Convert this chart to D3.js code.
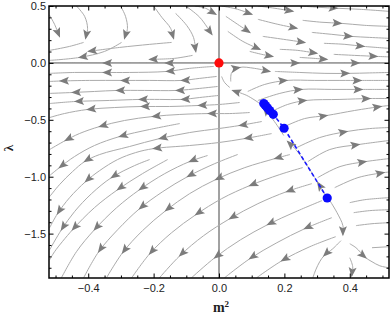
<!DOCTYPE html>
<html>
<head>
<meta charset="utf-8">
<script src="https://cdn.jsdelivr.net/npm/d3@7"></script>
<style>
  body { margin: 0; background: #fff; }
</style>
</head>
<body>
<div id="chart"></div>
<script>
'use strict';

// axis ticks
const xTicks = [-0.4, -0.2, 0, 0.2, 0.4];
const yTicks = [0.5, 0, -0.5, -1, -1.5];
const xMinorTicks = [-0.5, -0.45, -0.35, -0.3, -0.25, -0.15, -0.1, -0.05, 0.05, 0.1, 0.15, 0.25, 0.3, 0.35, 0.45, 0.5];
const yMinorTicks = [0.4, 0.3, 0.2, 0.1, -0.1, -0.2, -0.3, -0.4, -0.6, -0.7, -0.8, -0.9, -1.1, -1.2, -1.3, -1.4, -1.6, -1.7, -1.8];

// fixed point and the blue sequence of points (m^2, lambda)
const fixedM2 = [0];
const fixedLambda = [0];
const blueM2 = [0.137, 0.142, 0.148, 0.155, 0.166, 0.199, 0.331];
const blueLambda = [-0.357, -0.375, -0.395, -0.418, -0.452, -0.574, -1.187];

// stream lines: points (m^2, lambda) in flow order,
// heads = indices of the points that carry an arrowhead
const upperLeftStreams = [
  {pts: [[-0.518,0.418],[-0.503,0.339],[-0.488,0.233]], heads: [2]},
  {pts: [[-0.436,0.5],[-0.411,0.409],[-0.402,0.304],[-0.408,0.216]], heads: [3]},
  {pts: [[-0.414,0.180],[-0.457,0.145],[-0.518,0.110]], heads: []},
  {pts: [[-0.301,0.5],[-0.286,0.409],[-0.280,0.304],[-0.289,0.216]], heads: [3]},
  {pts: [[-0.298,0.180],[-0.350,0.101],[-0.427,0.048],[-0.518,0.022]], heads: [2]},
  {pts: [[-0.200,0.5],[-0.175,0.401],[-0.148,0.304],[-0.139,0.216]], heads: [3]},
  {pts: [[-0.145,0.180],[-0.212,0.163],[-0.304,0.136],[-0.399,0.101]], heads: [3]},
  {pts: [[-0.133,0.436],[-0.099,0.330],[-0.078,0.224],[-0.071,0.101]], heads: [3]},
  {pts: [[-0.102,0.5],[-0.059,0.401],[-0.022,0.251]], heads: [2]},
  {pts: [[-0.074,0.5],[-0.041,0.480],[-0.010,0.427]], heads: [2]},
  {pts: [[-0.010,0],[-0.087,0],[-0.163,0],[-0.243,0],[-0.353,0],[-0.442,0],[-0.518,0]], heads: [2,4]},
  {pts: [[-0.081,0.066],[-0.136,0.040],[-0.212,0.031]], heads: [2]}
];

const upperRightStreams = [
  {pts: [[0.008,0.5],[0.057,0.471],[0.100,0.427]], heads: [2]},
  {pts: [[0.119,0.5],[0.171,0.480],[0.226,0.453]], heads: [2]},
  {pts: [[0.247,0.5],[0.302,0.489],[0.361,0.480],[0.431,0.471],[0.520,0.453]], heads: [2]},
  {pts: [[0.021,0.409],[0.057,0.339],[0.094,0.268]], heads: [2]},
  {pts: [[0.119,0.383],[0.180,0.339],[0.238,0.304]], heads: [2]},
  {pts: [[0.256,0.374],[0.315,0.357],[0.373,0.348],[0.446,0.330],[0.520,0.321]], heads: [2]},
  {pts: [[0.027,0.277],[0.073,0.189],[0.125,0.119]], heads: [2]},
  {pts: [[0.134,0.233],[0.198,0.207],[0.262,0.180]], heads: [2]},
  {pts: [[0.284,0.268],[0.345,0.251],[0.406,0.233],[0.461,0.224],[0.520,0.216]], heads: [2]},
  {pts: [[0.094,0.101],[0.131,0.075],[0.164,0.057]], heads: [2]},
  {pts: [[0.186,0.119],[0.241,0.110],[0.299,0.084]], heads: [2]},
  {pts: [[0.321,0.172],[0.385,0.163],[0.443,0.145],[0.520,0.128]], heads: [2]},
  {pts: [[0.247,0.048],[0.290,0.040],[0.330,0.031]], heads: [2]},
  {pts: [[0.351,0.075],[0.415,0.066],[0.483,0.057],[0.520,0.053]], heads: [2]},
  {pts: [[0.008,0],[0.125,0],[0.244,0],[0.339,0],[0.428,0],[0.520,0]], heads: [2,4]}
];

const lowerRightStreams = [
  {pts: [[0.036,-0.163],[0.039,-0.084],[0.063,-0.040],[0.109,-0.048],[0.155,-0.075]], heads: [2,4]},
  {pts: [[0.171,-0.075],[0.247,-0.084],[0.324,-0.092],[0.397,-0.092],[0.461,-0.088],[0.520,-0.084]], heads: [3]},
  {pts: [[0.088,-0.251],[0.140,-0.189],[0.207,-0.154],[0.293,-0.154],[0.370,-0.154],[0.434,-0.154],[0.520,-0.154]], heads: [2,5]},
  {pts: [[0.119,-0.330],[0.186,-0.268],[0.253,-0.233],[0.345,-0.233],[0.437,-0.233],[0.520,-0.233]], heads: [2,4]},
  {pts: [[0.161,-0.427],[0.210,-0.365],[0.266,-0.330],[0.370,-0.321],[0.461,-0.313],[0.520,-0.313]], heads: [2,4]},
  {pts: [[0.201,-0.559],[0.262,-0.489],[0.330,-0.462],[0.415,-0.418],[0.495,-0.383],[0.520,-0.374]], heads: [2,4]},
  {pts: [[0.238,-0.744],[0.308,-0.656],[0.391,-0.603],[0.461,-0.577],[0.520,-0.568]], heads: [2]},
  {pts: [[0.272,-0.867],[0.339,-0.761],[0.428,-0.717],[0.520,-0.682]], heads: [2]},
  {pts: [[0.302,-1.008],[0.370,-0.911],[0.449,-0.867],[0.520,-0.841]], heads: [2]},
  {pts: [[0.354,-1.096],[0.425,-1.008],[0.504,-0.964],[0.520,-0.959]], heads: [2]},
  {pts: [[0.400,-1.228],[0.446,-1.202],[0.520,-1.184]], heads: []},
  {pts: [[0.412,-1.316],[0.461,-1.298],[0.520,-1.290]], heads: []},
  {pts: [[0.419,-1.430],[0.468,-1.413],[0.520,-1.404]], heads: []},
  {pts: [[0.468,-1.624],[0.520,-1.615]], heads: []},
  {pts: [[0.400,-1.712],[0.409,-1.791],[0.406,-1.871]], heads: [2]}
];

const separatrixStreams = [
  {pts: [[0.324,-1.158],[0.312,-1.096],[0.302,-1.052]], heads: [2]},
  {pts: [[0.293,-1.008],[0.262,-0.867],[0.235,-0.761],[0.210,-0.691]], heads: [3]},
  {pts: [[0.198,-0.638],[0.174,-0.533],[0.137,-0.392]], heads: [2]},
  {pts: [[0.125,-0.357],[0.085,-0.286],[0.042,-0.242]], heads: [2]},
  {pts: [[0.033,-0.216],[0.017,-0.172],[0.008,-0.119]], heads: []},
  {pts: [[0.339,-1.210],[0.361,-1.316],[0.379,-1.430],[0.379,-1.510]], heads: [3]},
  {pts: [[0.373,-1.562],[0.348,-1.633],[0.321,-1.695],[0.308,-1.747],[0.296,-1.818],[0.287,-1.888]], heads: [2]},
  {pts: [[0.400,-1.589],[0.419,-1.624],[0.449,-1.712],[0.468,-1.747],[0.492,-1.783],[0.520,-1.800]], heads: [2]}
];

const lowerLeftStreams = [
  {pts: [[-0.016,-0.031],[-0.090,-0.048],[-0.160,-0.075],[-0.274,-0.084],[-0.353,-0.084],[-0.442,-0.084],[-0.518,-0.092]], heads: [2,4]},
  {pts: [[-0.007,-0.119],[-0.059,-0.136],[-0.114,-0.154],[-0.212,-0.154],[-0.298,-0.154],[-0.396,-0.154],[-0.485,-0.159],[-0.518,-0.163]], heads: [2,4,6]},
  {pts: [[-0.004,-0.207],[-0.059,-0.224],[-0.130,-0.242],[-0.228,-0.242],[-0.313,-0.242],[-0.381,-0.251],[-0.448,-0.260],[-0.518,-0.268]], heads: [2,4,6]},
  {pts: [[-0.001,-0.286],[-0.059,-0.304],[-0.114,-0.321],[-0.182,-0.321],[-0.243,-0.321],[-0.335,-0.330],[-0.439,-0.339],[-0.518,-0.357]], heads: [2,4,6]},
  {pts: [[0.063,-0.348],[0.002,-0.365],[-0.062,-0.374],[-0.151,-0.383],[-0.237,-0.383],[-0.319,-0.392],[-0.402,-0.409],[-0.473,-0.445],[-0.518,-0.480]], heads: [2,4,6]},
  {pts: [[0.094,-0.436],[0.033,-0.445],[-0.032,-0.445],[-0.120,-0.453],[-0.203,-0.471],[-0.289,-0.506],[-0.365,-0.559],[-0.427,-0.621],[-0.470,-0.682],[-0.518,-0.761]], heads: [2,4,6,8]},
  {pts: [[-0.120,-0.533],[-0.212,-0.585],[-0.304,-0.647],[-0.381,-0.726],[-0.442,-0.823],[-0.488,-0.920],[-0.518,-0.990]], heads: [2,5]},
  {pts: [[0.131,-0.515],[0.063,-0.550],[-0.001,-0.577],[-0.090,-0.612],[-0.182,-0.665],[-0.274,-0.735],[-0.365,-0.805],[-0.411,-0.867],[-0.448,-0.955],[-0.488,-1.070],[-0.518,-1.175]], heads: [1,4,7]},
  {pts: [[0.161,-0.621],[0.079,-0.665],[-0.001,-0.700],[-0.090,-0.726],[-0.200,-0.753],[-0.255,-0.788],[-0.310,-0.849],[-0.365,-0.946],[-0.408,-1.043],[-0.457,-1.184],[-0.494,-1.325],[-0.518,-1.448]], heads: [1,4,8,10]},
  {pts: [[-0.212,-0.849],[-0.258,-0.902],[-0.329,-1.008],[-0.390,-1.149],[-0.442,-1.307],[-0.482,-1.466],[-0.518,-1.642]], heads: [2,5]},
  {pts: [[-0.157,-0.849],[-0.234,-0.973],[-0.310,-1.114],[-0.381,-1.272],[-0.448,-1.466],[-0.503,-1.659],[-0.518,-1.730]], heads: [2,4]},
  {pts: [[-0.035,-0.814],[-0.090,-0.867],[-0.166,-0.973],[-0.243,-1.114],[-0.313,-1.272],[-0.381,-1.466],[-0.436,-1.659],[-0.482,-1.888]], heads: [1,3,5]},
  {pts: [[0.057,-0.805],[-0.013,-0.885],[-0.096,-0.999],[-0.172,-1.131],[-0.243,-1.281],[-0.310,-1.466],[-0.368,-1.659],[-0.414,-1.888]], heads: [2,4,6]},
  {pts: [[0.217,-0.805],[0.171,-0.841],[0.079,-0.920],[-0.010,-1.025],[-0.090,-1.149],[-0.163,-1.298],[-0.234,-1.474],[-0.295,-1.668],[-0.344,-1.888]], heads: [1,3,5,7]},
  {pts: [[0.256,-0.920],[0.186,-0.981],[0.094,-1.078],[0.008,-1.193],[-0.071,-1.334],[-0.145,-1.492],[-0.212,-1.677],[-0.267,-1.888]], heads: [2,4,6]},
  {pts: [[0.284,-1.061],[0.207,-1.131],[0.119,-1.237],[0.033,-1.369],[-0.047,-1.518],[-0.120,-1.695],[-0.182,-1.888]], heads: [1,3,5]},
  {pts: [[0.315,-1.210],[0.235,-1.307],[0.149,-1.421],[0.066,-1.554],[-0.013,-1.712],[-0.084,-1.888]], heads: [2,4]},
  {pts: [[0.345,-1.360],[0.262,-1.457],[0.177,-1.580],[0.094,-1.721],[0.017,-1.888]], heads: [1,3]},
  {pts: [[0.357,-1.527],[0.278,-1.615],[0.192,-1.739],[0.115,-1.888]], heads: [2]}
];

// dimensions
const dimensions = {
  width: 390,
  height: 318,
  margin: {top: 6, right: 1, bottom: 40, left: 49}
};
dimensions.ctrWidth = dimensions.width - dimensions.margin.left - dimensions.margin.right;
dimensions.ctrHeight = dimensions.height - dimensions.margin.top - dimensions.margin.bottom;

const svg = d3.select('#chart')
  .append('svg')
  .attr('width', dimensions.width)
  .attr('height', dimensions.height)
  .style('background', '#fff');

const chart_g = svg.append('g')
  .attr('transform', `translate(${dimensions.margin.left}, ${dimensions.margin.top})`);

const xScale = d3.scaleLinear()
  .domain([-0.52, 0.52])
  .range([0, dimensions.ctrWidth]);

const yScale = d3.scaleLinear()
  .domain([-1.89, 0.5])
  .range([dimensions.ctrHeight, 0]);

chart_g.append('clipPath')
  .attr('id', 'plot_clip')
  .append('rect')
  .attr('width', dimensions.ctrWidth)
  .attr('height', dimensions.ctrHeight);

// zero lines
chart_g.append('line')
  .attr('x1', 0).attr('x2', dimensions.ctrWidth)
  .attr('y1', yScale(0)).attr('y2', yScale(0))
  .style('stroke', '#444').style('stroke-width', 1);
chart_g.append('line')
  .attr('x1', xScale(0)).attr('x2', xScale(0))
  .attr('y1', 0).attr('y2', dimensions.ctrHeight)
  .style('stroke', '#444').style('stroke-width', 1);

// stream lines
const allStreams = [].concat(upperLeftStreams, upperRightStreams, lowerRightStreams,
  separatrixStreams, lowerLeftStreams);

const line_gen = d3.line()
  .x(d => xScale(d[0]))
  .y(d => yScale(d[1]))
  .curve(d3.curveCatmullRom.alpha(0.5));

const stream_g = chart_g.append('g').attr('clip-path', 'url(#plot_clip)');

stream_g.selectAll('path.stream')
  .data(allStreams)
  .join('path')
  .attr('class', 'stream')
  .attr('d', d => line_gen(d.pts))
  .style('fill', 'none')
  .style('stroke', '#ababab')
  .style('stroke-width', 1);

// arrow heads
const heads = [];
allStreams.forEach(s => {
  s.heads.forEach(i => {
    const p = s.pts[i];
    const a = s.pts[Math.max(i - 1, 0)];
    const b = s.pts[Math.min(i + 1, s.pts.length - 1)];
    const ang = Math.atan2(yScale(b[1]) - yScale(a[1]), xScale(b[0]) - xScale(a[0])) * 180 / Math.PI;
    heads.push({x: xScale(p[0]), y: yScale(p[1]), ang: ang});
  });
});

stream_g.selectAll('path.head')
  .data(heads)
  .join('path')
  .attr('class', 'head')
  .attr('d', 'M1.5,0L-8.5,-4L-6.5,0L-8.5,4Z')
  .attr('transform', d => `translate(${d.x},${d.y}) rotate(${d.ang})`)
  .style('fill', '#7c7c7c');

// blue sequence
const bluePts = blueM2.map((m, i) => [m, blueLambda[i]]);
chart_g.append('path')
  .datum(bluePts)
  .attr('d', d3.line().x(d => xScale(d[0])).y(d => yScale(d[1])))
  .style('fill', 'none')
  .style('stroke', '#1a1aff')
  .style('stroke-width', 1.6)
  .style('stroke-dasharray', '4,2.5');

chart_g.selectAll('circle.blue')
  .data(bluePts)
  .join('circle')
  .attr('class', 'blue')
  .attr('cx', d => xScale(d[0]))
  .attr('cy', d => yScale(d[1]))
  .attr('r', 4.6)
  .style('fill', '#0a0aff');

chart_g.selectAll('circle.fixed')
  .data(fixedM2.map((m, i) => [m, fixedLambda[i]]))
  .join('circle')
  .attr('class', 'fixed')
  .attr('cx', d => xScale(d[0]))
  .attr('cy', d => yScale(d[1]))
  .attr('r', 4.6)
  .style('fill', '#ff0a0a');

// frame axes with inward ticks
const fmt = d3.format('.1f');
const axisStyle = (g) => {
  g.select('.domain').remove();
  g.selectAll('.tick line').style('stroke', '#000');
  g.selectAll('.tick text')
    .style('font-family', 'Arial, "Liberation Sans", sans-serif')
    .style('font-size', '11px')
    .style('fill', '#222');
};

chart_g.append('g')
  .attr('transform', `translate(0,${dimensions.ctrHeight})`)
  .call(d3.axisBottom(xScale).tickValues(xTicks).tickSize(-4.5).tickPadding(6).tickFormat(fmt))
  .call(axisStyle);
chart_g.append('g')
  .attr('transform', `translate(0,${dimensions.ctrHeight})`)
  .call(d3.axisBottom(xScale).tickValues(xMinorTicks).tickSize(-2.5).tickFormat(''))
  .call(axisStyle);
chart_g.append('g')
  .call(d3.axisTop(xScale).tickValues(xTicks).tickSize(-4.5).tickFormat(''))
  .call(axisStyle);
chart_g.append('g')
  .call(d3.axisTop(xScale).tickValues(xMinorTicks).tickSize(-2.5).tickFormat(''))
  .call(axisStyle);

chart_g.append('g')
  .call(d3.axisLeft(yScale).tickValues(yTicks).tickSize(-4.5).tickPadding(3).tickFormat(fmt))
  .call(axisStyle);
chart_g.append('g')
  .call(d3.axisLeft(yScale).tickValues(yMinorTicks).tickSize(-2.5).tickFormat(''))
  .call(axisStyle);
chart_g.append('g')
  .attr('transform', `translate(${dimensions.ctrWidth},0)`)
  .call(d3.axisRight(yScale).tickValues(yTicks).tickSize(-4.5).tickFormat(''))
  .call(axisStyle);
chart_g.append('g')
  .attr('transform', `translate(${dimensions.ctrWidth},0)`)
  .call(d3.axisRight(yScale).tickValues(yMinorTicks).tickSize(-2.5).tickFormat(''))
  .call(axisStyle);

chart_g.append('rect')
  .attr('width', dimensions.ctrWidth)
  .attr('height', dimensions.ctrHeight)
  .style('fill', 'none')
  .style('stroke', '#000')
  .style('stroke-width', 1.5);

// axis titles
const xTitle = svg.append('text')
  .attr('x', dimensions.margin.left + xScale(0) + 2)
  .attr('y', 312)
  .attr('text-anchor', 'middle')
  .style('font-family', '"Liberation Serif", "Times New Roman", serif')
  .style('font-weight', 'bold')
  .style('font-size', '14px')
  .style('fill', '#222');
xTitle.append('tspan').text('m');
xTitle.append('tspan').attr('dy', -5).style('font-size', '9px').text('2');

svg.append('text')
  .attr('transform', `translate(13, ${dimensions.margin.top + dimensions.ctrHeight / 2 + 6}) rotate(-90)`)
  .attr('text-anchor', 'middle')
  .style('font-family', '"Liberation Serif", "Times New Roman", serif')
  .style('font-weight', 'bold')
  .style('font-size', '13px')
  .style('fill', '#222')
  .text('λ');
</script>
</body>
</html>
